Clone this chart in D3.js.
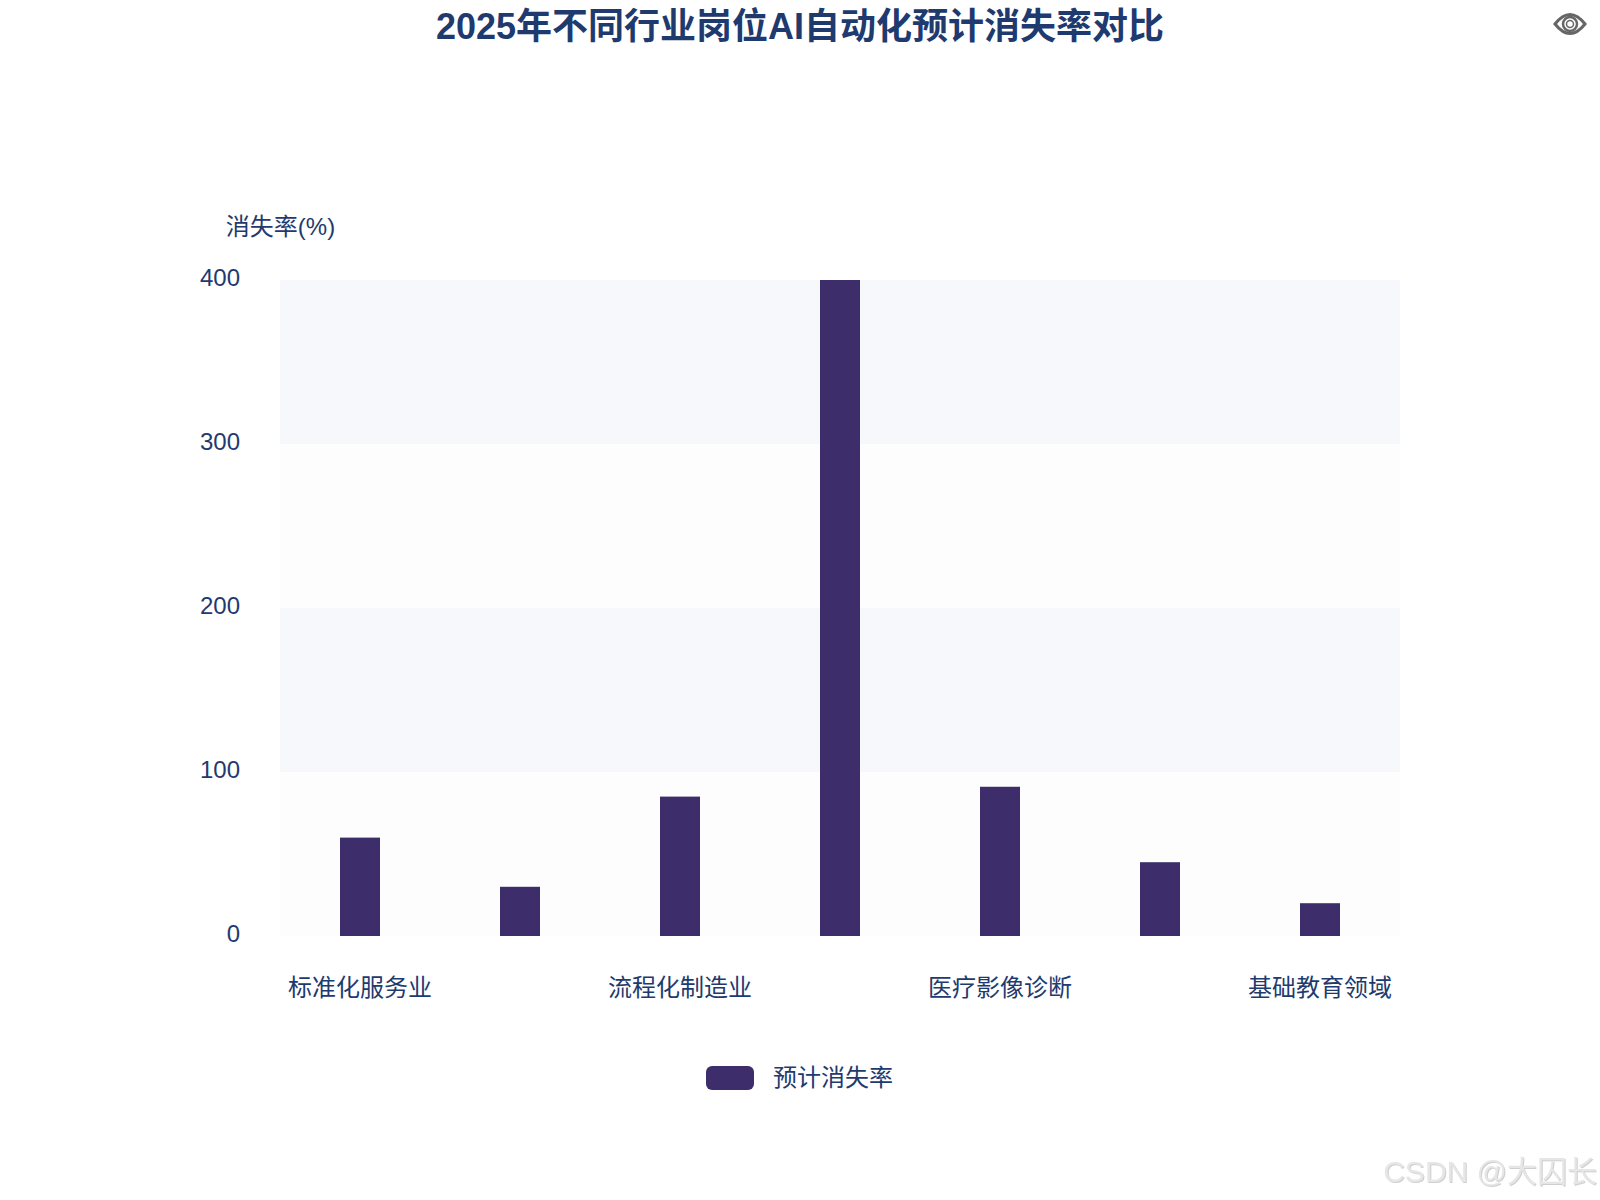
<!DOCTYPE html>
<html>
<head>
<meta charset="utf-8">
<script src="https://cdn.jsdelivr.net/npm/d3@7/dist/d3.min.js"></script>
<style>
  html, body { margin: 0; padding: 0; background: #fff; }
  svg { display: block; }
  text { font-family: "Liberation Sans", "Noto Sans CJK SC", sans-serif; }
  .watermark { filter: drop-shadow(1px 1px 0 #cfcfcf); }
</style>
</head>
<body>
<svg id="chart" width="1600" height="1200"></svg>
<script>
const categories = ['标准化服务业', '', '流程化制造业', '', '医疗影像诊断', '', '基础教育领域']
const lossRate = [60, 30, 85, 400, 91, 45, 20]
const yTicks = [0, 100, 200, 300, 400]
const seriesName = '预计消失率'

const textColor = '#1e3a6e'
const barColor = '#3d2e6b'
const bandColors = ['#fdfdfe', '#f7f8fb']

const svg = d3.select('#chart')
const plotLeft = 280, plotRight = 1400, plotTop = 280, plotBottom = 936

const x = d3.scaleBand().domain(d3.range(categories.length)).range([plotLeft, plotRight])
const y = d3.scaleLinear().domain([0, 400]).range([plotBottom, plotTop])

// alternating split areas
svg.append('g')
  .selectAll('rect')
  .data(d3.pairs(yTicks))
  .join('rect')
  .attr('x', plotLeft)
  .attr('width', plotRight - plotLeft)
  .attr('y', d => y(d[1]))
  .attr('height', d => y(d[0]) - y(d[1]))
  .attr('fill', (d, i) => bandColors[i % 2])

// bars
const barWidth = 40
svg.append('g')
  .selectAll('rect')
  .data(lossRate)
  .join('rect')
  .attr('x', (d, i) => x(i) + x.bandwidth() / 2 - barWidth / 2)
  .attr('width', barWidth)
  .attr('y', d => y(d))
  .attr('height', d => plotBottom - y(d))
  .attr('fill', barColor)

// axes
const yAxis = svg.append('g')
  .attr('transform', 'translate(' + plotLeft + ',0)')
  .call(d3.axisLeft(y).tickValues(yTicks).tickSize(0).tickPadding(40))
const xAxis = svg.append('g')
  .attr('transform', 'translate(0,' + plotBottom + ')')
  .call(d3.axisBottom(x).tickFormat(i => categories[i]).tickSize(0).tickPadding(43))
yAxis.select('.domain').remove()
xAxis.select('.domain').remove()
svg.selectAll('.tick text')
  .attr('font-size', 24)
  .attr('fill', textColor)
  .style('font-family', '"Liberation Sans", "Noto Sans CJK SC", sans-serif')
yAxis.selectAll('.tick text').attr('dy', '0.23em')

// title and axis name
svg.append('text')
  .attr('x', 800).attr('y', 38.5)
  .attr('text-anchor', 'middle')
  .attr('font-size', 36)
  .attr('font-weight', 'bold')
  .attr('fill', textColor)
  .text('2025年不同行业岗位AI自动化预计消失率对比')

svg.append('text')
  .attr('x', 280.5).attr('y', 235)
  .attr('text-anchor', 'middle')
  .attr('font-size', 24)
  .attr('fill', textColor)
  .text('消失率(%)')

// legend
const legend = svg.append('g').attr('transform', 'translate(706,1066)')
legend.append('rect')
  .attr('width', 48).attr('height', 24).attr('rx', 6)
  .attr('fill', barColor)
legend.append('text')
  .attr('x', 67).attr('y', 20)
  .attr('font-size', 24)
  .attr('fill', textColor)
  .text(seriesName)

// eye icon top right
const eye = svg.append('g')
  .attr('transform', 'translate(1570,24)')
  .attr('fill', 'none')
  .attr('stroke', '#666')
eye.append('path')
  .attr('d', 'M-15,0 Q0,-19 15,0 Q0,19 -15,0 Z')
  .attr('stroke-width', 3)
eye.append('circle').attr('r', 7).attr('stroke-width', 2.5)
eye.append('circle').attr('r', 3.5).attr('stroke-width', 1.5)

// watermark
svg.append('text')
  .attr('class', 'watermark')
  .attr('x', 1597).attr('y', 1182)
  .attr('text-anchor', 'end')
  .attr('font-size', 30)
  .attr('fill', '#e6e6e6')
  .text('CSDN @大囚长')
</script>
</body>
</html>
